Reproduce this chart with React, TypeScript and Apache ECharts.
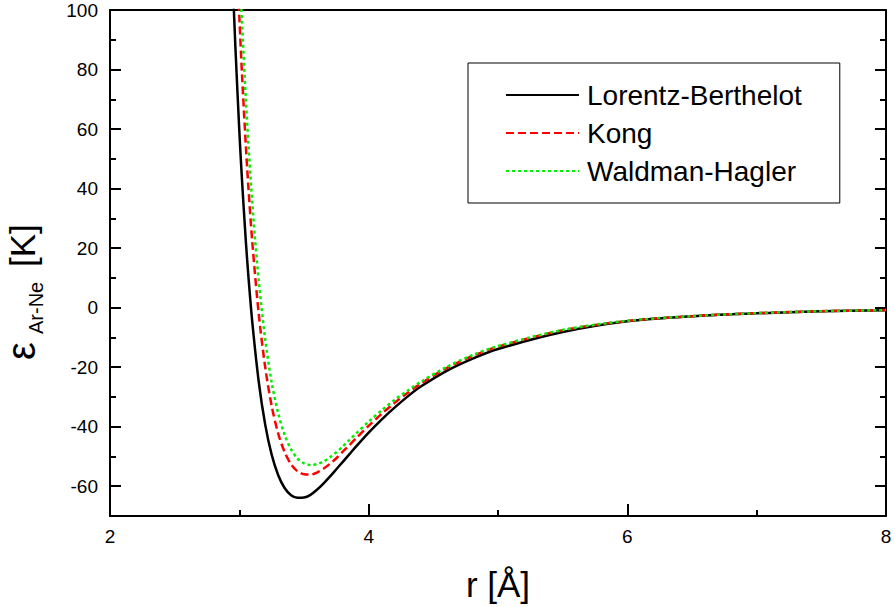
import React, { useEffect, useRef } from "react";
import * as echarts from "echarts";

// r [Å] and ε [K] values
const rLB = [2.95, 2.97, 3.0, 3.02, 3.05, 3.07, 3.1, 3.15, 3.2, 3.25, 3.3, 3.35, 3.4, 3.45, 3.5, 3.55, 3.6, 3.65, 3.7, 3.75, 3.8, 3.85, 3.9, 4.0, 4.1, 4.2, 4.3, 4.4, 4.6, 4.8, 5.0, 5.5, 6.0, 6.5, 7.0, 7.5, 8.0];
const eLB = [108.5, 87.1, 59.3, 43.3, 22.5, 10.6, -4.8, -24.9, -39.3, -49.4, -56.2, -60.6, -63.0, -63.9, -63.8, -62.9, -61.2, -59.1, -56.8, -54.3, -51.8, -49.3, -46.8, -42.0, -37.6, -33.6, -29.9, -26.6, -21.3, -17.2, -13.9, -8.2, -4.6, -2.9, -1.9, -1.25, -0.85];

const rKong = [2.98, 3.0, 3.02, 3.05, 3.07, 3.1, 3.15, 3.2, 3.25, 3.3, 3.35, 3.4, 3.45, 3.5, 3.55, 3.6, 3.65, 3.7, 3.75, 3.8, 3.85, 3.9, 4.0, 4.1, 4.2, 4.3, 4.4, 4.6, 4.8, 5.0, 5.5, 6.0, 6.5, 7.0, 7.5, 8.0];
const eKong = [118.6, 97.7, 79.0, 54.6, 40.5, 22.1, -2.1, -20.0, -33.0, -42.2, -48.5, -52.6, -55.0, -56.0, -56.1, -55.4, -54.1, -52.5, -50.6, -48.4, -46.2, -44.0, -39.7, -35.7, -32.0, -28.7, -25.6, -20.4, -16.3, -13.1, -7.6, -4.5, -2.85, -1.85, -1.2, -0.83];

const rWH = [3.0, 3.02, 3.05, 3.07, 3.1, 3.12, 3.15, 3.2, 3.25, 3.3, 3.35, 3.4, 3.45, 3.5, 3.55, 3.6, 3.65, 3.7, 3.75, 3.8, 3.85, 3.9, 4.0, 4.1, 4.2, 4.3, 4.4, 4.6, 4.8, 5.0, 5.5, 6.0, 6.5, 7.0, 7.5, 8.0];
const eWH = [116.5, 96.4, 70.3, 55.1, 35.3, 23.8, 9.0, -10.6, -25.1, -35.4, -42.7, -47.6, -50.7, -52.3, -52.9, -52.6, -51.7, -50.3, -48.6, -46.6, -44.5, -42.4, -38.3, -34.5, -31.0, -27.9, -25.0, -20.0, -16.0, -12.9, -7.5, -4.4, -2.85, -1.85, -1.2, -0.82];

const seriesNames = ["Lorentz-Berthelot", "Kong", "Waldman-Hagler"];
const yMajorTicks = [-60, -40, -20, 0, 20, 40, 60, 80, 100];
const yMinorTicks = [-50, -30, -10, 10, 30, 50, 70, 90];

const FONT = "'Liberation Sans', Arial, Helvetica, sans-serif";

export default function App() {
  const ref = useRef<HTMLDivElement>(null);

  useEffect(() => {
    if (!ref.current) return;
    const chart = echarts.init(ref.current, undefined, { renderer: "svg" });

    const pair = (xs: number[], ys: number[]) => xs.map((x, i) => [x, ys[i]]);

    const yBase = {
      type: "value",
      min: -70,
      max: 100,
      splitLine: { show: false },
    };

    const option: any = {
      animation: false,
      backgroundColor: "#fff",
      grid: { left: 110, right: 9, top: 10, bottom: 91 },
      legend: {
        orient: "vertical",
        left: 468,
        top: 63,
        padding: [18, 38, 18, 37],
        itemWidth: 73,
        itemHeight: 14,
        itemGap: 10,
        borderColor: "#000",
        borderWidth: 1,
        borderRadius: 0,
        itemStyle: { opacity: 0 },
        textStyle: { fontSize: 28, color: "#000", fontFamily: FONT, padding: [0, 0, 0, 3] },
        data: seriesNames,
      },
      xAxis: [
        {
          type: "value",
          position: "bottom",
          min: 2,
          max: 8,
          interval: 2,
          name: "r [Å]",
          nameLocation: "middle",
          nameGap: 68,
          nameTextStyle: { fontSize: 35, color: "#000", fontFamily: FONT, verticalAlign: "middle" },
          axisLine: { show: true, onZero: false, lineStyle: { color: "#000", width: 2 } },
          axisTick: { show: true, inside: true, length: 12, lineStyle: { color: "#000", width: 2 } },
          minorTick: { show: true, splitNumber: 2, length: 6, lineStyle: { color: "#000", width: 2 } },
          axisLabel: { fontSize: 19, color: "#000", fontFamily: FONT, margin: 11 },
          splitLine: { show: false },
          minorSplitLine: { show: false },
        },
        {
          type: "value",
          position: "top",
          min: 2,
          max: 8,
          interval: 2,
          axisLine: { show: true, onZero: false, lineStyle: { color: "#000", width: 2 } },
          axisTick: { show: false },
          axisLabel: { show: false },
          splitLine: { show: false },
        },
      ],
      yAxis: [
        {
          ...yBase,
          position: "left",
          axisLine: { show: true, onZero: false, lineStyle: { color: "#000", width: 2 } },
          axisTick: { show: true, inside: true, length: 11, customValues: yMajorTicks, lineStyle: { color: "#000", width: 2 } },
          axisLabel: { show: true, customValues: yMajorTicks, fontSize: 19, color: "#000", fontFamily: FONT, margin: 12 },
        },
        {
          ...yBase,
          position: "left",
          axisLine: { show: false },
          axisTick: { show: true, inside: true, length: 6, customValues: yMinorTicks, lineStyle: { color: "#000", width: 2 } },
          axisLabel: { show: false },
        },
        {
          ...yBase,
          position: "right",
          axisLine: { show: true, onZero: false, lineStyle: { color: "#000", width: 2 } },
          axisTick: { show: true, inside: true, length: 11, customValues: yMajorTicks, lineStyle: { color: "#000", width: 2 } },
          axisLabel: { show: false },
        },
        {
          ...yBase,
          position: "right",
          axisLine: { show: false },
          axisTick: { show: true, inside: true, length: 6, customValues: yMinorTicks, lineStyle: { color: "#000", width: 2 } },
          axisLabel: { show: false },
        },
      ],
      graphic: [
        {
          type: "group",
          x: 0,
          y: 360,
          rotation: Math.PI / 2,
          children: [
            { type: "text", x: 0, y: 21, style: { text: "ε", fontSize: 40, fontFamily: FONT, fill: "#000", verticalAlign: "middle", align: "left" } },
            { type: "text", x: 26, y: 36, style: { text: "Ar-Ne", fontSize: 20, fontFamily: FONT, fill: "#000", verticalAlign: "middle", align: "left" } },
            { type: "text", x: 93, y: 22, style: { text: "[K]", fontSize: 35, fontFamily: FONT, fill: "#000", verticalAlign: "middle", align: "left" } },
          ],
        },
      ],
      series: [
        {
          name: seriesNames[0],
          type: "line",
          data: pair(rLB, eLB),
          symbol: "none",
          showSymbol: false,
          smooth: 0.3,
          clip: true,
          lineStyle: { color: "#000", width: 2.5, type: "solid" },
          itemStyle: { color: "#000" },
        },
        {
          name: seriesNames[1],
          type: "line",
          data: pair(rKong, eKong),
          symbol: "none",
          showSymbol: false,
          smooth: 0.3,
          clip: true,
          lineStyle: { color: "#ff0000", width: 2.5, type: [8, 4] },
          itemStyle: { color: "#ff0000" },
        },
        {
          name: seriesNames[2],
          type: "line",
          data: pair(rWH, eWH),
          symbol: "none",
          showSymbol: false,
          smooth: 0.3,
          clip: true,
          lineStyle: { color: "#00ee00", width: 2.5, type: [3, 3] },
          itemStyle: { color: "#00ee00" },
        },
      ],
    };

    chart.setOption(option);
    return () => chart.dispose();
  }, []);

  return (
    <div
      ref={ref}
      style={{ position: "fixed", left: 0, top: 0, width: 895, height: 607, background: "#fff" }}
    />
  );
}
